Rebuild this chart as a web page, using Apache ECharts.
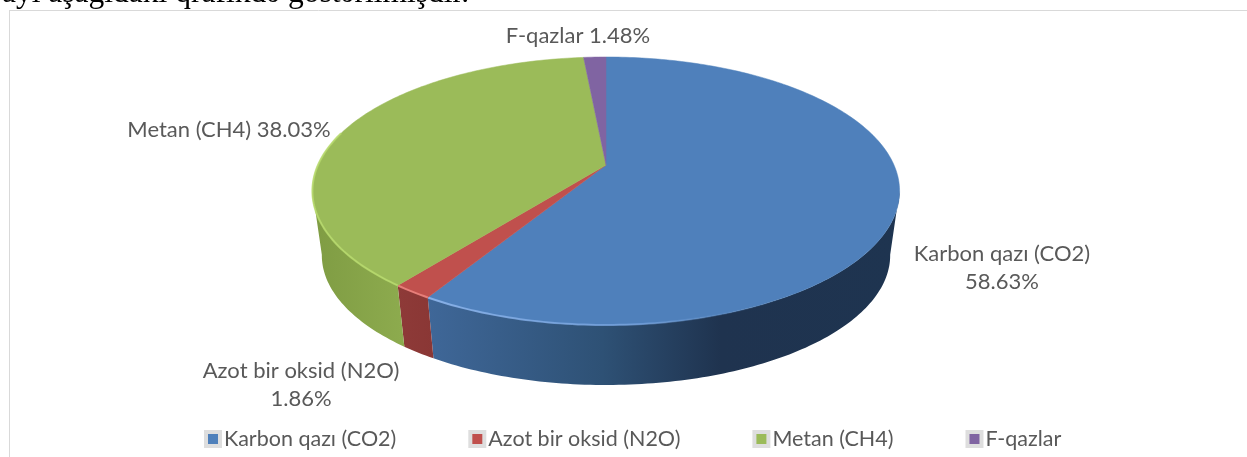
<!DOCTYPE html>
<html><head><meta charset="utf-8">
<style>html,body{margin:0;padding:0;background:#fff}#c{width:1247px;height:457px}</style>
<script src="https://cdn.jsdelivr.net/npm/echarts@6/dist/echarts.min.js"></script>
</head><body><div id="c"></div>
<script>
const categories = ['Karbon qazı (CO2)', 'Azot bir oksid (N2O)', 'Metan (CH4)', 'F-qazlar'];
const shares = [58.63, 1.86, 38.03, 1.48];
const topColors = ['#4f80bb', '#c0504d', '#9bbb59', '#8064a2'];
const wallStops = [
  [[0, '#3f6798'], [0.37, '#2e5175'], [0.62, '#1f334f'], [1, '#1e3450']],
  [[0, '#8e3a38'], [1, '#8a3735']],
  [[0, '#7f9c43'], [1, '#8dab4e']],
  [[0, '#5f4a7a'], [1, '#5f4a7a']]
];
const rimStops = [
  [[0, 'rgba(140,180,235,0.9)'], [0.45, 'rgba(120,165,225,0.7)'], [0.75, 'rgba(79,128,187,0)'], [1, 'rgba(79,128,187,0)']],
  [[0, 'rgba(235,130,125,0.9)'], [1, 'rgba(235,130,125,0.9)']],
  [[0, 'rgba(185,220,110,0.8)'], [1, 'rgba(185,220,110,0.8)']],
  [[0, 'rgba(0,0,0,0)'], [1, 'rgba(0,0,0,0)']]
];
const labelCenters = [[1002, 268], [301, 385], [229, 130], [578, 36]];
const labelTwoLines = [true, true, false, false];
const headingText = 'ayı aşağıdakı qrafikdə göstərilmişdir.';

const FONT = 'Lato, "Open Sans", sans-serif';
const total = shares.reduce((a, b) => a + b, 0);
// perspective projection of the pie's unit disc on the screen
function project(x, y) {
  const d = 1 - 0.194 * y;
  return [606 + 288 * x / d, (96.95 * y + 165) / d];
}
function rim(t) { return project(Math.sin(t), -Math.cos(t)); }
function lower(p) { return [606 + (p[0] - 606) * 0.968, 2200 + (p[1] - 2200) * 0.968]; }
const FRONT_A = 101 * Math.PI / 180, FRONT_B = 259 * Math.PI / 180, HIGHLIGHT_B = 285 * Math.PI / 180;
function arc(a, b) {
  const n = Math.max(2, Math.ceil((b - a) * 60)), out = [];
  for (let i = 0; i <= n; i++) out.push(rim(a + (b - a) * i / n));
  return out;
}
function gradient(points, stops) {
  const xs = points.map(p => p[0]);
  const x0 = Math.min.apply(null, xs), x1 = Math.max.apply(null, xs);
  return new echarts.graphic.LinearGradient(x0, 0, x1, 0,
    stops.map(s => ({ offset: s[0], color: s[1] })), true);
}
function renderSlice(idx) {
  return function () {
    const before = shares.slice(0, idx).reduce((a, b) => a + b, 0);
    const a = before / total * 2 * Math.PI;
    const b = (before + shares[idx]) / total * 2 * Math.PI;
    const children = [];
    const fa = Math.max(a, FRONT_A), fb = Math.min(b, FRONT_B);
    if (fb > fa) {
      const front = arc(fa, fb);
      const wall = front.concat(front.map(lower).reverse());
      children.push({
        type: 'polygon', shape: { points: wall },
        style: { fill: gradient(wall, wallStops[idx]) }
      });
    }
    children.push({
      type: 'polygon', shape: { points: [project(0, 0)].concat(arc(a, b)) },
      style: { fill: topColors[idx], stroke: topColors[idx], lineWidth: 0.5 }
    });
    const hb = Math.min(b, HIGHLIGHT_B);
    if (hb > fa) {
      const line = arc(fa, hb);
      children.push({
        type: 'polyline', shape: { points: line },
        style: { fill: null, stroke: gradient(line, rimStops[idx]), lineWidth: 2 }
      });
    }
    const name = categories[idx], pct = shares[idx].toFixed(2) + '%';
    children.push({
      type: 'text', x: labelCenters[idx][0], y: labelCenters[idx][1],
      style: {
        text: name + (labelTwoLines[idx] ? '\n' : ' ') + pct,
        fill: '#595959', font: '22px ' + FONT, lineHeight: 28,
        align: 'center', verticalAlign: 'middle'
      }
    });
    return { type: 'group', children: children };
  };
}
const chart = echarts.init(document.getElementById('c'), null, { renderer: 'canvas' });
chart.setOption({
  animation: false,
  backgroundColor: '#fff',
  legend: {
    left: 204, top: 428, padding: 0, itemGap: 72, itemWidth: 14, itemHeight: 14,
    icon: 'rect', selectedMode: false,
    itemStyle: { borderColor: '#dedede', borderWidth: 4 },
    textStyle: { color: '#595959', fontFamily: FONT, fontSize: 21.5, padding: [0, 0, 0, -1] },
    data: categories
  },
  graphic: [
    { type: 'line', shape: { x1: 9, y1: 10.5, x2: 1247, y2: 10.5 }, style: { stroke: '#d9d9d9', lineWidth: 1 } },
    { type: 'line', shape: { x1: 9.5, y1: 10, x2: 9.5, y2: 457 }, style: { stroke: '#d9d9d9', lineWidth: 1 } },
    { type: 'text', x: 2, y: 10, style: { text: headingText, fill: '#000', font: '31.5px "Liberation Serif", serif', verticalAlign: 'bottom' } }
  ],
  series: categories.map((name, i) => ({
    type: 'custom', name: name, coordinateSystem: 'none', silent: true,
    itemStyle: { color: topColors[i] },
    renderItem: renderSlice(i),
    data: [[shares[i]]]
  }))
});
</script></body></html>
